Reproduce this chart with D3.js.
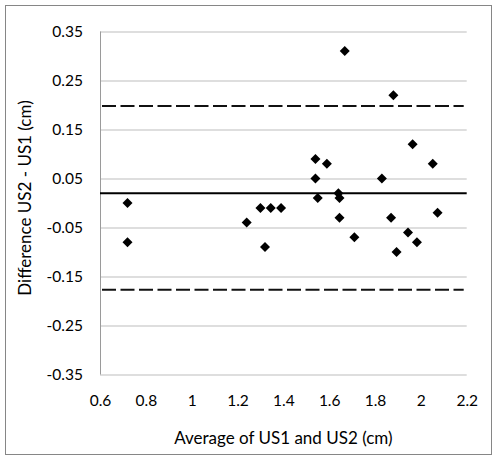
<!DOCTYPE html>
<html>
<head>
<meta charset="utf-8">
<script src="https://cdn.jsdelivr.net/npm/d3@7"></script>
<style>
  body { margin: 0; background: #fff; }
  text { font-family: Lato, "Open Sans", sans-serif; fill: #000; }
</style>
</head>
<body>
<div id="chart"></div>
<script>
// Bland-Altman data: average of the two scans vs their difference
var averages = [0.72, 0.72, 1.24, 1.30, 1.32, 1.345, 1.39, 1.54, 1.54, 1.55, 1.59,
                1.64, 1.645, 1.645, 1.668, 1.71, 1.83, 1.87, 1.88, 1.894, 1.944,
                1.964, 1.983, 2.052, 2.073]
var differences = [0.00, -0.08, -0.04, -0.01, -0.09, -0.01, -0.01, 0.05, 0.09, 0.01, 0.08,
                   0.02, 0.01, -0.03, 0.31, -0.07, 0.05, -0.03, 0.22, -0.10, -0.06,
                   0.12, -0.08, 0.08, -0.02]
var meanDiff = 0.02
var limits = [0.198, -0.177]
var xTicks = [0.6, 0.8, 1, 1.2, 1.4, 1.6, 1.8, 2, 2.2]
var yTicks = [0.35, 0.25, 0.15, 0.05, -0.05, -0.15, -0.25, -0.35]

var width = 500
var height = 461
var margin = {top: 31.5, left: 100, right: 33.3, bottom: 86.5}

var svg = d3.select("#chart")
            .append("svg")
            .attr("width", width)
            .attr("height", height)

//Outer chart border
svg.append("rect")
   .attr("x", 5.5)
   .attr("y", 5.5)
   .attr("width", 486)
   .attr("height", 449)
   .attr("fill", "#fff")
   .attr("stroke", "#868686")
   .attr("stroke-width", 1)

var plotW = width - margin.left - margin.right
var plotH = height - margin.top - margin.bottom

var x = d3.scaleLinear().domain([0.6, 2.2]).range([0, plotW])
var y = d3.scaleLinear().domain([-0.35, 0.35]).range([plotH, 0])

var g = svg.append("g")
           .attr("transform", "translate(" + margin.left + "," + margin.top + ")")

//Horizontal gridlines
g.append("g")
 .call(d3.axisLeft(y).tickValues(yTicks).tickSize(-plotW).tickFormat(""))
 .call(function(a) {
   a.select(".domain").remove()
   a.selectAll("line").attr("stroke", "#bdbdbd")
 })

//Left axis line
g.append("line")
 .attr("x1", 0.5).attr("x2", 0.5)
 .attr("y1", 0).attr("y2", plotH)
 .attr("stroke", "#9a9a9a")

//Y tick labels
g.append("g")
 .call(d3.axisLeft(y).tickValues(yTicks).tickSize(0).tickPadding(17)
         .tickFormat(function(d) { return d3.format(".2f")(d).replace("−", "-") }))
 .call(function(a) {
   a.select(".domain").remove()
   a.selectAll("text").style("font-size", "15.5px").attr("fill", "#000")
 })

//X tick labels
g.append("g")
 .attr("transform", "translate(0," + plotH + ")")
 .call(d3.axisBottom(x).tickValues(xTicks).tickSize(0).tickPadding(20)
         .tickFormat(function(d) { return d3.format("")(d) }))
 .call(function(a) {
   a.select(".domain").remove()
   a.selectAll("text").style("font-size", "15.5px").attr("fill", "#000")
 })

//Mean difference line
g.append("line")
 .attr("x1", 0).attr("x2", plotW)
 .attr("y1", y(meanDiff)).attr("y2", y(meanDiff))
 .attr("stroke", "#000")
 .attr("stroke-width", 2)

//Limits of agreement
g.selectAll(".loa")
 .data(limits)
 .enter()
 .append("line")
 .attr("class", "loa")
 .attr("x1", 2).attr("x2", plotW - 3)
 .attr("y1", function(d) { return y(d) })
 .attr("y2", function(d) { return y(d) })
 .attr("stroke", "#111")
 .attr("stroke-width", 2)
 .attr("stroke-dasharray", "14,4.5")

//Points as diamonds
g.selectAll(".pt")
 .data(averages)
 .enter()
 .append("path")
 .attr("class", "pt")
 .attr("d", d3.symbol().type(d3.symbolSquare).size(50))
 .attr("transform", function(d, i) {
   return "translate(" + x(d) + "," + y(differences[i]) + ") rotate(45)"
 })
 .attr("fill", "#000")

//Axis titles
svg.append("text")
   .attr("x", margin.left + plotW / 2)
   .attr("y", 444)
   .attr("text-anchor", "middle")
   .style("font-size", "17px")
   .text("Average of US1 and US2 (cm)")

svg.append("text")
   .attr("transform", "translate(31,198) rotate(-90)")
   .attr("text-anchor", "middle")
   .style("font-size", "17px")
   .text("Difference US2 - US1 (cm)")
</script>
</body>
</html>
